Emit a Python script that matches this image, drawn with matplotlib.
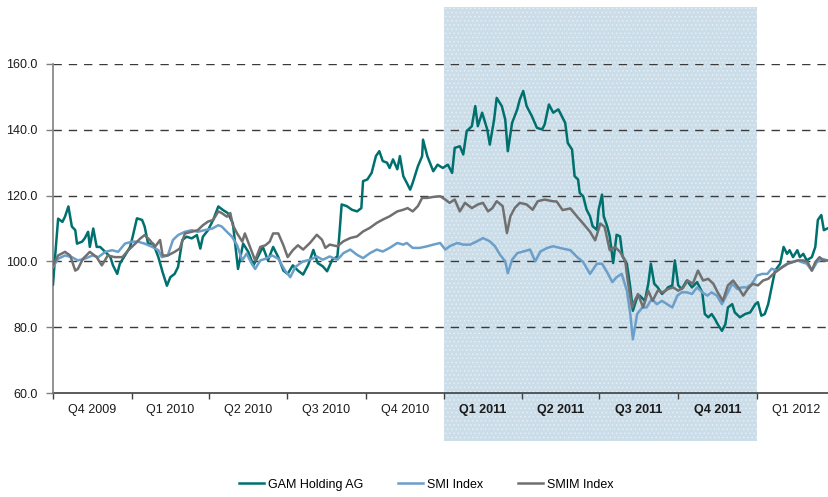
import numpy as np
import pandas as pd
import matplotlib
matplotlib.use("Agg")
import matplotlib.pyplot as plt
import matplotlib.dates as mdates
import matplotlib.transforms as mtransforms
from matplotlib.patches import Rectangle

plt.rcParams['font.family'] = ['Liberation Sans', 'DejaVu Sans']

START = "2009-10-01"

# ---- data: days since START and rebased values ----
gam_day = [0, 2, 6, 11, 14, 18, 22, 26, 28, 34, 37, 41, 43, 47, 51, 55, 61, 67, 70, 75, 78, 84, 90, 93, 98,
           104, 107, 111, 117, 123, 128, 133, 137, 142, 146, 151, 156, 162, 168, 172, 175, 181, 187, 193, 198,
           204, 210, 216, 222, 228, 234, 239, 245, 251, 257, 263, 269, 274, 280, 286, 292, 298, 304, 309, 315,
           320, 326, 332, 334, 337, 343, 349, 355, 360, 362, 367, 372, 377, 381, 385, 390, 393, 397, 402, 405,
           409, 413, 417, 420, 426, 431, 432, 437, 440, 444, 449, 455, 461, 466, 469, 475, 479, 483, 489, 493,
           496, 501, 507, 510, 515, 518, 524, 528, 531, 536, 542, 545, 549, 553, 559, 565, 571, 574, 579, 584,
           590, 592, 598, 601, 606, 609, 613, 615, 619, 623, 627, 630, 635, 637, 641, 643, 647, 650, 654, 658,
           662, 665, 670, 674, 677, 682, 685, 691, 695, 698, 702, 706, 711, 715, 718, 723, 726, 730, 734, 740,
           746, 752, 758, 761, 765, 769, 773, 776, 781, 785, 788, 793, 796, 802, 808, 814, 820, 823, 827, 831,
           835, 839, 843, 849, 853, 857, 860, 864, 869, 872, 876, 880, 886, 890, 893, 897, 900, 904]
gam_val = [93.0, 100.0, 113.0, 112.0, 113.6, 116.7, 110.6, 109.5, 105.4, 106.0, 107.0, 109.0, 104.4, 110.0,
           104.4, 104.4, 102.9, 101.3, 98.8, 96.2, 99.3, 101.8, 104.4, 107.5, 113.1, 112.6, 110.6, 105.4, 105.4,
           101.3, 96.7, 92.6, 95.2, 96.2, 98.3, 106.5, 107.5, 107.0, 108.0, 103.9, 107.5, 109.5, 112.6, 116.7,
           115.7, 114.7, 111.6, 97.7, 105.4, 102.9, 98.8, 101.3, 104.4, 100.3, 104.4, 101.3, 97.2, 96.2, 98.8,
           97.2, 96.0, 99.0, 103.5, 99.5, 98.5, 97.0, 100.5, 101.5, 107.0, 117.3, 116.8, 115.7, 115.2, 116.2,
           124.4, 124.9, 126.9, 132.0, 133.5, 130.5, 130.0, 128.4, 131.0, 128.0, 132.0, 125.9, 123.9, 121.8,
           123.9, 128.9, 132.0, 137.0, 132.0, 130.0, 127.4, 129.4, 128.4, 129.4, 126.9, 134.5, 135.0, 132.5,
           139.6, 141.1, 147.2, 141.1, 145.2, 140.1, 135.5, 143.1, 149.7, 147.2, 143.1, 133.5, 142.1, 146.2,
           149.2, 151.8, 147.2, 144.2, 140.6, 140.1, 141.6, 147.7, 145.2, 146.2, 145.2, 142.1, 136.0, 134.0,
           125.9, 124.9, 120.8, 119.8, 115.7, 113.7, 110.7, 109.6, 115.7, 120.3, 113.7, 110.7, 107.6, 99.5,
           108.1, 107.6, 101.5, 99.3, 92.1, 85.0, 89.1, 89.6, 88.0, 93.2, 99.3, 93.2, 92.1, 90.1, 91.1, 92.1,
           92.7, 100.3, 92.7, 91.6, 94.2, 92.1, 93.7, 90.6, 84.0, 83.0, 84.0, 82.4, 80.9, 78.9, 80.9, 86.0,
           87.0, 84.5, 83.0, 84.0, 84.5, 87.0, 87.6, 83.5, 84.0, 87.0, 92.1, 97.2, 99.3, 104.4, 102.3, 103.4,
           101.3, 103.4, 101.3, 102.3, 100.3, 101.3, 104.4, 112.6, 114.1, 109.5, 110.0]

smi_day = [0, 6, 14, 22, 29, 37, 46, 53, 61, 69, 76, 84, 92, 99, 107, 116, 123, 127, 134, 140, 146, 154, 162,
           169, 177, 186, 193, 197, 203, 209, 215, 221, 226, 232, 236, 242, 248, 256, 263, 271, 277, 283, 288,
           292, 300, 308, 315, 323, 332, 339, 347, 355, 362, 370, 378, 385, 393, 402, 409, 413, 420, 428, 437,
           444, 452, 458, 463, 472, 479, 487, 495, 502, 510, 516, 522, 528, 531, 536, 542, 549, 557, 563, 569,
           577, 584, 595, 604, 612, 619, 627, 635, 641, 647, 653, 658, 664, 670, 674, 677, 682, 688, 693, 699,
           705, 711, 717, 723, 729, 734, 740, 746, 752, 758, 764, 769, 775, 781, 787, 793, 799, 804, 810, 816,
           822, 828, 834, 839, 845, 851, 857, 863, 869, 874, 880, 886, 892, 898, 904]
smi_val = [98.3, 100.8, 101.8, 101.3, 100.3, 100.8, 101.8, 101.3, 102.9, 103.4, 102.9, 105.4, 106.0, 106.0,
           105.4, 104.4, 103.4, 101.3, 101.8, 106.5, 108.0, 109.0, 109.5, 109.0, 109.5, 110.0, 111.0, 110.6,
           109.0, 107.5, 104.9, 100.3, 102.4, 99.3, 97.7, 100.3, 100.8, 101.8, 100.8, 97.2, 95.2, 98.3, 99.3,
           100.0, 100.5, 101.5, 100.5, 101.5, 100.5, 102.5, 103.6, 102.0, 101.0, 102.5, 103.6, 103.0, 104.1,
           105.6, 105.1, 105.6, 104.1, 104.1, 104.6, 105.1, 105.6, 103.6, 104.6, 105.6, 105.1, 105.1, 106.1,
           107.1, 106.1, 104.6, 102.0, 100.0, 96.4, 100.5, 102.5, 103.0, 103.6, 100.0, 103.0, 104.1, 104.6,
           103.9, 103.4, 101.3, 99.8, 96.2, 99.3, 99.3, 96.7, 93.7, 95.2, 96.2, 91.1, 84.0, 76.3, 84.0, 86.0,
           86.0, 88.6, 87.0, 88.0, 87.0, 86.0, 89.6, 90.6, 90.6, 90.1, 92.1, 90.6, 89.6, 90.6, 89.6, 87.0,
           90.1, 93.2, 91.6, 92.1, 92.1, 93.2, 95.7, 96.2, 96.2, 97.8, 97.2, 98.3, 99.3, 99.8, 100.3, 99.8,
           99.3, 97.2, 99.8, 100.8, 100.3]

smim_day = [0, 6, 14, 20, 26, 29, 35, 43, 51, 57, 64, 72, 81, 88, 96, 102, 107, 113, 119, 125, 128, 134, 142,
            148, 154, 162, 169, 175, 181, 187, 193, 197, 203, 207, 210, 215, 221, 224, 230, 236, 242, 248, 253,
            257, 263, 269, 274, 280, 286, 292, 300, 308, 314, 318, 323, 332, 339, 347, 355, 362, 370, 378, 385,
            393, 402, 409, 414, 420, 426, 431, 437, 444, 452, 458, 463, 469, 475, 481, 489, 496, 502, 508, 513,
            518, 525, 530, 534, 539, 545, 553, 560, 566, 574, 583, 588, 595, 604, 612, 619, 627, 633, 639, 644,
            650, 656, 662, 668, 671, 676, 679, 683, 689, 695, 700, 706, 712, 718, 724, 730, 736, 741, 747, 753,
            759, 765, 771, 776, 782, 788, 794, 800, 806, 811, 817, 823, 829, 835, 841, 846, 852, 858, 864, 870,
            876, 881, 886, 890, 895, 899, 905]
smim_val = [98.8, 101.8, 102.9, 101.8, 97.2, 97.7, 100.8, 102.9, 101.3, 98.8, 101.8, 101.3, 101.3, 103.4,
            105.4, 107.0, 108.0, 106.5, 104.4, 106.5, 101.8, 101.8, 102.9, 103.9, 108.5, 109.0, 109.5, 111.0,
            112.1, 112.6, 115.2, 114.7, 113.6, 114.7, 111.0, 108.5, 106.0, 108.5, 104.4, 100.3, 104.4, 104.9,
            106.0, 108.5, 108.5, 104.9, 101.3, 103.4, 104.9, 103.6, 105.6, 108.1, 106.6, 104.1, 105.1, 104.6,
            106.1, 107.1, 107.6, 109.1, 110.2, 111.7, 112.7, 113.7, 115.2, 115.7, 116.2, 115.2, 116.8, 119.3,
            119.3, 119.6, 119.8, 118.8, 117.8, 118.8, 115.2, 117.8, 116.2, 117.3, 117.8, 115.2, 116.2, 118.3,
            116.8, 108.6, 113.7, 116.2, 117.8, 117.3, 115.7, 118.3, 118.8, 118.3, 118.2, 115.6, 116.1, 113.6,
            111.5, 109.0, 106.4, 111.5, 110.5, 103.4, 104.4, 102.9, 100.3, 94.2, 86.0, 88.0, 90.1, 86.0, 91.1,
            88.0, 91.1, 90.6, 91.6, 92.1, 91.1, 92.1, 94.2, 93.2, 97.2, 94.2, 94.7, 93.2, 90.6, 88.0, 92.7,
            94.2, 92.1, 89.6, 91.6, 93.2, 92.7, 94.2, 94.7, 96.2, 97.2, 98.3, 99.3, 99.8, 100.3, 100.3, 99.8,
            97.2, 99.8, 101.3, 100.3, 100.3]

series_names = ["GAM Holding AG", "SMI Index", "SMIM Index"]
quarter_labels = ["Q4 2009", "Q1 2010", "Q2 2010", "Q3 2010", "Q4 2010",
                  "Q1 2011", "Q2 2011", "Q3 2011", "Q4 2011", "Q1 2012"]
quarter_starts = ["2009-10-01", "2010-01-01", "2010-04-01", "2010-07-01", "2010-10-01",
                  "2011-01-01", "2011-04-01", "2011-07-01", "2011-10-01", "2012-01-01", "2012-04-01"]
bold_labels = ["Q1 2011", "Q2 2011", "Q3 2011", "Q4 2011"]
highlight = ("2011-01-01", "2012-01-01")
yticks = [60, 80, 100, 120, 140, 160]

colors = ["#00706e", "#6b9fca", "#707070"]

start = pd.Timestamp(START)
def to_dates(days):
    return start + pd.to_timedelta(np.asarray(days), unit="D")

fig = plt.figure(figsize=(8.29, 4.97), dpi=100)
ax = fig.add_axes([53/829, 104/497, 776/829, 329/497])
ax.patch.set_alpha(0)

# highlight band (extends beyond axes)
trans = mtransforms.blended_transform_factory(ax.transData, ax.transAxes)
x0 = mdates.date2num(pd.Timestamp(highlight[0]))
x1 = mdates.date2num(pd.Timestamp(highlight[1]))
plt.rcParams['hatch.linewidth'] = 0.6
rect = Rectangle((x0, -0.146), x1 - x0, 1.319, transform=trans, clip_on=False,
                 facecolor="#cbdde8", edgecolor="#e6eff5", hatch="....", linewidth=0, zorder=0)
ax.add_patch(rect)

# dashed gridlines
for yv in yticks[1:]:
    ax.axhline(yv, color="#3a3a3a", linewidth=1.0, dashes=(6, 5), zorder=1)

for d, v, c, n in zip([gam_day, smi_day, smim_day], [gam_val, smi_val, smim_val], colors, series_names):
    ax.plot(to_dates(d), v, color=c, linewidth=1.8, label=n, zorder=3, solid_joinstyle="round")

ax.set_ylim(60, 160)
ax.set_xlim(start, start + pd.Timedelta(days=906))
ax.set_yticks(yticks)
ax.set_yticklabels([f"{v:.1f}" for v in yticks])

qs = [pd.Timestamp(q) for q in quarter_starts]
ax.set_xticks(qs[:-1])
ax.set_xticklabels([])
mids = [qs[i] + (qs[i + 1] - qs[i]) / 2 for i in range(len(qs) - 1)]
ax.set_xticks(mids, minor=True)
ax.set_xticklabels(quarter_labels, minor=True)
for lab in ax.get_xticklabels(minor=True):
    if lab.get_text() in bold_labels:
        lab.set_fontweight("bold")

ax.tick_params(axis="x", which="major", length=4, width=1, color="#404040", direction="out")
ax.tick_params(axis="x", which="minor", length=0, pad=8, labelsize=9, labelcolor="#1a1a1a")
ax.tick_params(axis="y", length=5, width=1, color="#808080", pad=6, labelsize=9, labelcolor="#1a1a1a")

for s in ["top", "right"]:
    ax.spines[s].set_visible(False)
ax.spines["left"].set_color("#808080")
ax.spines["left"].set_linewidth(1.2)
ax.spines["bottom"].set_color("#404040")
ax.spines["bottom"].set_linewidth(1.2)
ax.spines["bottom"].set_zorder(2)

fig.legend(loc="center", bbox_to_anchor=(0.514, 0.025), ncol=3, frameon=False, fontsize=9,
           handlelength=2.0, handletextpad=0.3, columnspacing=2.8)

fig.savefig("out.png", dpi=100)
